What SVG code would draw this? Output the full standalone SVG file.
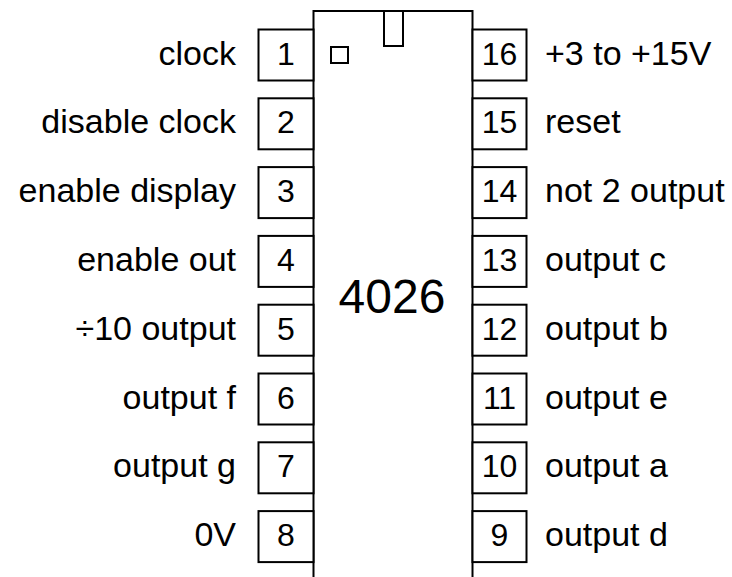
<svg xmlns="http://www.w3.org/2000/svg" width="732" height="577" viewBox="0 0 732 577">
<style>
.b{fill:#fff;stroke:#000;stroke-width:2}
.t{font-family:"Liberation Sans",Arial,sans-serif;font-size:34px;fill:#000}
.l{text-anchor:end}
.n{text-anchor:middle;font-size:32px}
</style>
<rect width="732" height="577" fill="#fff"/>
<g id="body">
<rect class="b" x="313.5" y="11" width="159" height="567"/>
<rect class="b" x="384" y="11" width="19" height="35"/>
<rect class="b" x="331" y="47" width="17" height="16"/>
<text class="t" x="392" y="313" style="font-size:48px;text-anchor:middle">4026</text>
</g>
<g id="pins-left">
<g id="p1"><rect class="b" x="258.5" y="29.5" width="55" height="51"/><text class="t n" x="286" y="64.5">1</text><text class="t l" x="236" y="64.5">clock</text></g>
<g id="p2"><rect class="b" x="258.5" y="98.3" width="55" height="51"/><text class="t n" x="286" y="133.3">2</text><text class="t l" x="236" y="133.3">disable clock</text></g>
<g id="p3"><rect class="b" x="258.5" y="167.1" width="55" height="51"/><text class="t n" x="286" y="202.1">3</text><text class="t l" x="236" y="202.1">enable display</text></g>
<g id="p4"><rect class="b" x="258.5" y="235.9" width="55" height="51"/><text class="t n" x="286" y="270.9">4</text><text class="t l" x="236" y="270.9">enable out</text></g>
<g id="p5"><rect class="b" x="258.5" y="304.7" width="55" height="51"/><text class="t n" x="286" y="339.7">5</text><text class="t l" x="236" y="339.7">÷10 output</text></g>
<g id="p6"><rect class="b" x="258.5" y="373.5" width="55" height="51"/><text class="t n" x="286" y="408.5">6</text><text class="t l" x="236" y="408.5">output f</text></g>
<g id="p7"><rect class="b" x="258.5" y="442.3" width="55" height="51"/><text class="t n" x="286" y="477.3">7</text><text class="t l" x="236" y="477.3">output g</text></g>
<g id="p8"><rect class="b" x="258.5" y="511.1" width="55" height="51"/><text class="t n" x="286" y="546.1">8</text><text class="t l" x="236" y="546.1">0V</text></g>
</g>
<g id="pins-right">
<g id="p16"><rect class="b" x="472.5" y="29.5" width="54" height="51"/><text class="t n" x="499.5" y="64.5">16</text><text class="t" x="545" y="64.5">+3 to +15V</text></g>
<g id="p15"><rect class="b" x="472.5" y="98.3" width="54" height="51"/><text class="t n" x="499.5" y="133.3">15</text><text class="t" x="545" y="133.3">reset</text></g>
<g id="p14"><rect class="b" x="472.5" y="167.1" width="54" height="51"/><text class="t n" x="499.5" y="202.1">14</text><text class="t" x="545" y="202.1">not 2 output</text></g>
<g id="p13"><rect class="b" x="472.5" y="235.9" width="54" height="51"/><text class="t n" x="499.5" y="270.9">13</text><text class="t" x="545" y="270.9">output c</text></g>
<g id="p12"><rect class="b" x="472.5" y="304.7" width="54" height="51"/><text class="t n" x="499.5" y="339.7">12</text><text class="t" x="545" y="339.7">output b</text></g>
<g id="p11"><rect class="b" x="472.5" y="373.5" width="54" height="51"/><text class="t n" x="499.5" y="408.5">11</text><text class="t" x="545" y="408.5">output e</text></g>
<g id="p10"><rect class="b" x="472.5" y="442.3" width="54" height="51"/><text class="t n" x="499.5" y="477.3">10</text><text class="t" x="545" y="477.3">output a</text></g>
<g id="p9"><rect class="b" x="472.5" y="511.1" width="54" height="51"/><text class="t n" x="499.5" y="546.1">9</text><text class="t" x="545" y="546.1">output d</text></g>
</g>
</svg>
